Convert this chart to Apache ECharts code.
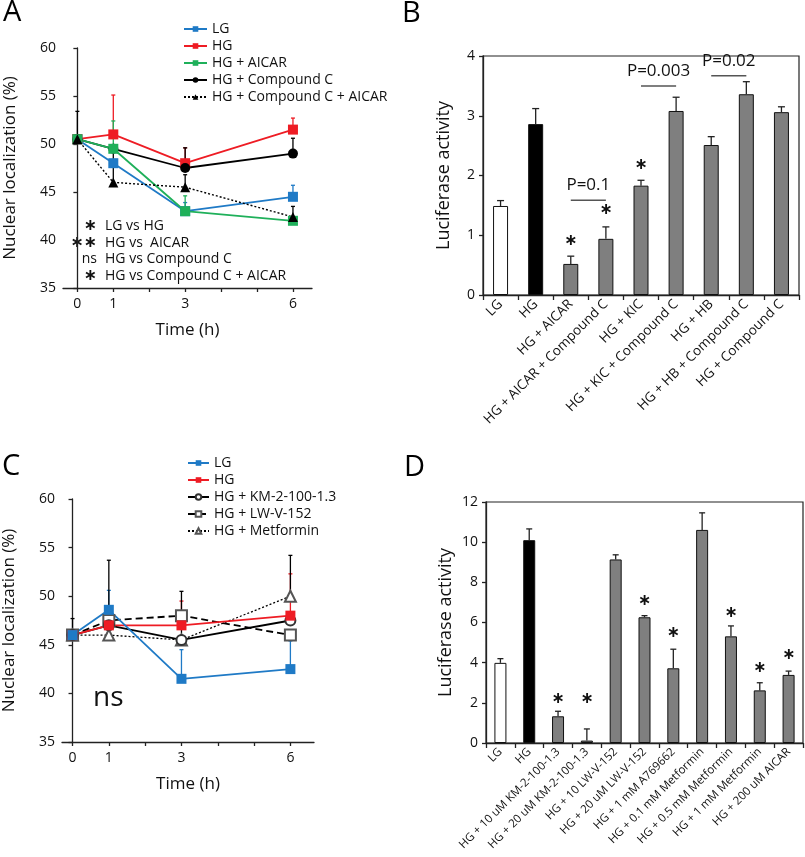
<!DOCTYPE html>
<html><head><meta charset="utf-8">
<script src="https://cdn.jsdelivr.net/npm/echarts@6/dist/echarts.min.js"></script>
<style>html,body{margin:0;padding:0;background:#fff}#c{width:805px;height:857px}</style>
</head><body><div id="c"></div>
<script>
// ---------- Panel A ----------
const timesA = [0, 1, 3, 6];
const aLG = [50.5, 48, 43, 44.5];
const aHG = [50.5, 51, 48, 51.5];
const aAICAR = [50.5, 49.5, 43, 42];
const aCC = [50.5, 49.5, 47.5, 49];
const aCCAICAR = [50.5, 46, 45.5, 42.4];
const aLGErr = [0, 0, 0.9, 1.2];
const aHGErr = [0, 4.1, 1.6, 1.2];
const aAICARErr = [0, 2.9, 1.6, 0];
const aCCErr = [0, 0, 2.1, 1.6];
const aCCAICARErr = [2.9, 3.3, 1.3, 1.1];
const aTickValues = [0, 1, 2, 3, 4, 5, 6];
const aLabelValues = [0, 1, 3, 6];
const aStars = ['\u2217', '\u2217\u2217', 'ns', '\u2217'];
const aNotes = ['LG vs HG', 'HG vs  AICAR', 'HG vs Compound C', 'HG vs Compound C + AICAR'];

// ---------- Panel B ----------
const bCats = ['LG', 'HG', 'HG + AICAR', 'HG + AICAR + Compound C', 'HG + KIC', 'HG + KIC + Compound C', 'HG + HB', 'HG + HB + Compound C', 'HG + Compound C'];
const bVals = [1.49, 2.86, 0.52, 0.94, 1.83, 3.08, 2.51, 3.36, 3.06];
const bErr = [0.09, 0.26, 0.13, 0.2, 0.09, 0.23, 0.14, 0.21, 0.09];
const bStarIdx = [2, 3, 4];
const bStarY = [0.9, 1.42, 2.17];
const bPFrom = [1.78, 3.97, 5.97];
const bPTo = [3.14, 5.3, 7.32];
const bPY = [1.585, 3.5, 3.67];
const bPText = ['P=0.1', 'P=0.003', 'P=0.02'];

// ---------- Panel C ----------
const timesC = [0, 1, 3, 6];
const cLG = [46, 48.6, 41.5, 42.5];
const cHG = [46, 47, 47, 48];
const cKM = [46, 47, 45.5, 47.5];
const cLW = [46, 47.5, 48, 46];
const cMet = [46, 46, 45.5, 50];
const cLGErr = [0, 2.0, 3.0, 2.9];
const cHGErr = [0, 0, 2.5, 4.3];
const cKMErr = [1.7, 6.7, 5.0, 0];
const cLWErr = [0, 0, 0, 0];
const cMetErr = [0, 0, 0, 4.2];

// ---------- Panel D ----------
const dCats = ['LG', 'HG', 'HG + 10 uM KM-2-100-1.3', 'HG + 20 uM KM-2-100-1.3', 'HG + 10 LW-V-152', 'HG + 20 uM LW-V-152', 'HG + 1 mM A769662', 'HG + 0.1 mM Metformin', 'HG + 0.5 mM Metformin', 'HG + 1 mM Metformin', 'HG + 200 uM AICAR'];
const dVals = [3.99, 10.1, 1.33, 0.12, 9.14, 6.26, 3.72, 10.61, 5.31, 2.62, 3.39];
const dErr = [0.21, 0.56, 0.25, 0.58, 0.23, 0.08, 0.95, 0.85, 0.52, 0.38, 0.19];
const dStarIdx = [2, 3, 5, 6, 8, 9, 10];
const dStarY = [2.2, 2.2, 7.1, 5.5, 6.5, 3.75, 4.4];

// ---------- styles ----------
const FONT = 'Open Sans';
const BLUE = '#1f7ac6', RED = '#ee1c24', GREEN = '#1fb05a', GRAYBAR = '#7f7f7f';
const barColors = (n) => Array.from({length: n}, (_, i) => i === 0 ? '#ffffff' : (i === 1 ? '#000000' : GRAYBAR));

function pts(xs, ys) { return xs.map((x, i) => [x, ys[i]]); }

function errSeries(axis, xs, vals, errs, color, capHalf, z) {
  const data = [];
  xs.forEach((x, i) => { if (errs[i] > 0) data.push([x, vals[i], vals[i] + errs[i]]); });
  return {
    type: 'custom', xAxisIndex: axis, yAxisIndex: axis, z: z, silent: true, data: data,
    encode: {x: 0, y: [1, 2]},
    renderItem: function (params, api) {
      const p0 = api.coord([api.value(0), api.value(1)]);
      const p1 = api.coord([api.value(0), api.value(2)]);
      return {type: 'group', children: [
        {type: 'line', shape: {x1: p0[0], y1: p0[1], x2: p1[0], y2: p1[1]}, style: {stroke: color, lineWidth: 1.3}},
        {type: 'line', shape: {x1: p1[0] - capHalf, y1: p1[1], x2: p1[0] + capHalf, y2: p1[1]}, style: {stroke: color, lineWidth: 1.3}}
      ]};
    }
  };
}

function starSeries(axis, idx, ys) {
  return {
    type: 'custom', xAxisIndex: axis, yAxisIndex: axis, z: 10, silent: true,
    data: idx.map((x, i) => [x, ys[i]]),
    renderItem: function (params, api) {
      const p = api.coord([api.value(0), api.value(1)]);
      return {type: 'text', x: p[0], y: p[1], style: {text: '\u2217', font: 'bold 16px "DejaVu Sans"', fill: '#111', align: 'center', verticalAlign: 'middle'}};
    }
  };
}

function lineSeries(name, axis, xs, ys, color, symbol, size, lineType, extra) {
  return Object.assign({
    name: name, type: 'line', xAxisIndex: axis, yAxisIndex: axis, data: pts(xs, ys),
    symbol: symbol, symbolSize: size, z: 5,
    lineStyle: {color: color, width: 1.8, type: lineType},
    itemStyle: {color: color},
    emphasis: {disabled: true}, animation: false
  }, extra || {});
}

const axisLineStyle = {color: '#222', width: 1.3};
const tickLabel = {color: '#111', fontFamily: FONT, fontSize: 14};

function timeX(grid, min, max) {
  return {
    gridIndex: grid, type: 'value', min: min, max: max,
    axisLine: {show: true, lineStyle: axisLineStyle},
    axisTick: {show: true, customValues: aTickValues, length: 4, lineStyle: axisLineStyle},
    axisLabel: Object.assign({customValues: aLabelValues, margin: 9}, tickLabel),
    splitLine: {show: false},
    name: 'Time (h)', nameLocation: 'middle', nameGap: 34,
    nameTextStyle: {fontFamily: FONT, fontSize: 17, color: '#111'}
  };
}
function locY(grid) {
  return {
    gridIndex: grid, type: 'value', min: 35, max: 60, interval: 5,
    axisLine: {show: true, lineStyle: axisLineStyle},
    axisTick: {show: true, length: 4, lineStyle: axisLineStyle},
    axisLabel: Object.assign({margin: 7}, tickLabel),
    splitLine: {show: false},
    name: 'Nuclear localization (%)', nameLocation: 'middle', nameGap: 44, nameRotate: 90,
    nameTextStyle: {fontFamily: FONT, fontSize: 17, color: '#111'}
  };
}
function catX(grid, cats, fs) {
  return {
    gridIndex: grid, type: 'category', data: cats,
    axisLine: {show: true, lineStyle: axisLineStyle},
    axisTick: {show: true, interval: 0, alignWithLabel: false, length: 5, lineStyle: axisLineStyle},
    axisLabel: {interval: 0, rotate: 45, margin: 7, color: '#111', fontFamily: FONT, fontSize: fs},
    splitLine: {show: false}
  };
}
function lucY(grid, max, interval, gap) {
  return {
    gridIndex: grid, type: 'value', min: 0, max: max, interval: interval,
    axisLine: {show: true, lineStyle: axisLineStyle},
    axisTick: {show: true, length: 4, lineStyle: axisLineStyle},
    axisLabel: Object.assign({margin: 8}, tickLabel),
    splitLine: {show: false},
    name: 'Luciferase activity', nameLocation: 'middle', nameGap: gap, nameRotate: 90,
    nameTextStyle: {fontFamily: FONT, fontSize: 18, color: '#111'}
  };
}

function barSeries(axis, vals, width) {
  const cols = barColors(vals.length);
  return {
    type: 'bar', xAxisIndex: axis, yAxisIndex: axis, barWidth: width, z: 3,
    data: vals.map((v, i) => ({value: v, itemStyle: {color: cols[i]}})),
    itemStyle: {borderColor: '#111', borderWidth: 1},
    emphasis: {disabled: true}, animation: false
  };
}

const pSeries = {
  type: 'custom', xAxisIndex: 1, yAxisIndex: 1, z: 10, silent: true,
  data: bPFrom.map((f, i) => [f, bPY[i], bPTo[i]]),
  encode: {x: [0, 2], y: 1},
  renderItem: function (params, api) {
    const a = api.coord([api.value(0), api.value(1)]);
    const b = api.coord([api.value(2), api.value(1)]);
    return {type: 'group', children: [
      {type: 'line', shape: {x1: a[0], y1: a[1], x2: b[0], y2: b[1]}, style: {stroke: '#555', lineWidth: 1.5}},
      {type: 'text', x: (a[0] + b[0]) / 2, y: a[1] - 15, style: {text: bPText[params.dataIndex], font: '17px "Open Sans"', fill: '#111', align: 'center', verticalAlign: 'middle'}}
    ]};
  }
};

const graphics = [];
[['A', 3, 13], ['B', 402, 14], ['C', 2, 466.5], ['D', 404, 468]].forEach(l => {
  graphics.push({type: 'text', x: l[1], y: l[2], style: {text: l[0], font: '29px "Open Sans"', fill: '#000', align: 'left', verticalAlign: 'middle'}});
});
aStars.forEach((s, i) => {
  const y = 226 + i * 16.7;
  graphics.push({type: 'text', x: 97, y: y, style: {text: s, font: (s === 'ns' ? '14px "Open Sans"' : 'bold 16px "DejaVu Sans"'), fill: '#111', align: 'right', verticalAlign: 'middle'}});
  graphics.push({type: 'text', x: 105, y: y, style: {text: aNotes[i], font: '14px "Open Sans"', fill: '#111', align: 'left', verticalAlign: 'middle'}});
});
graphics.push({type: 'text', x: 93, y: 698, style: {text: 'ns', font: '28px "Open Sans"', fill: '#111', align: 'left', verticalAlign: 'middle'}});

const legendText = {fontFamily: FONT, fontSize: 14, color: '#111', lineHeight: 14};

const option = {
  animation: false,
  backgroundColor: '#fff',
  textStyle: {fontFamily: FONT},
  grid: [
    {left: 63, top: 48, width: 249, height: 240},
    {left: 483, top: 56, width: 316, height: 239, show: true, borderColor: '#222', borderWidth: 1.2, backgroundColor: 'transparent'},
    {left: 62, top: 499, width: 252, height: 243},
    {left: 486, top: 502, width: 317, height: 241, show: true, borderColor: '#222', borderWidth: 1.2, backgroundColor: 'transparent'}
  ],
  xAxis: [timeX(0, -0.4, 6.53), catX(1, bCats, 13.5), timeX(2, -0.29, 6.65), catX(3, dCats, 11.5)],
  yAxis: [locY(0), lucY(1, 4, 1, 30), locY(2), lucY(3, 12, 2, 31)],
  legend: [
    {left: 183, top: 22, orient: 'vertical', itemWidth: 23, itemHeight: 7, itemGap: 3, padding: 0, selectedMode: false,
     textStyle: legendText, data: ['LG', 'HG', 'HG + AICAR', 'HG + Compound C', 'HG + Compound C + AICAR']},
    {left: 187, top: 456, orient: 'vertical', itemWidth: 21, itemHeight: 7, itemGap: 3, padding: 0, selectedMode: false,
     textStyle: legendText, data: ['LG ', 'HG ', 'HG + KM-2-100-1.3', 'HG + LW-V-152', 'HG + Metformin']}
  ],
  graphic: graphics,
  series: [
    // A error bars
    errSeries(0, timesA, aLG, aLGErr, BLUE, 2, 2),
    errSeries(0, timesA, aHG, aHGErr, RED, 2, 2),
    errSeries(0, timesA, aAICAR, aAICARErr, GREEN, 2, 2),
    errSeries(0, timesA, aCC, aCCErr, '#000', 2, 2),
    errSeries(0, timesA, aCCAICAR, aCCAICARErr, '#000', 2, 2),
    lineSeries('LG', 0, timesA, aLG, BLUE, 'rect', 10, 'solid'),
    lineSeries('HG', 0, timesA, aHG, RED, 'rect', 10, 'solid'),
    lineSeries('HG + Compound C', 0, timesA, aCC, '#000', 'circle', 10, 'solid'),
    lineSeries('HG + AICAR', 0, timesA, aAICAR, GREEN, 'rect', 10, 'solid'),
    lineSeries('HG + Compound C + AICAR', 0, timesA, aCCAICAR, '#000', 'triangle', 10, [2, 2], {lineStyle: {color: '#000', width: 1.4, type: [2, 2]}}),
    // B
    barSeries(1, bVals, 15),
    errSeries(1, bCats.map((c, i) => i), bVals, bErr, '#222', 3.5, 4),
    starSeries(1, bStarIdx, bStarY),
    pSeries,
    // C error bars
    errSeries(2, timesC, cLG, cLGErr, BLUE, 2, 2),
    errSeries(2, timesC, cHG, cHGErr, RED, 2, 2),
    errSeries(2, timesC, cKM, cKMErr, '#000', 2, 2),
    errSeries(2, timesC, cLW, cLWErr, '#000', 2, 2),
    errSeries(2, timesC, cMet, cMetErr, '#000', 2, 2),
    lineSeries('HG + LW-V-152', 2, timesC, cLW, '#000', 'emptyRect', 11, [7, 4], {itemStyle: {color: '#555', borderWidth: 1}, lineStyle: {color: '#000', width: 1.8, type: [7, 4]}}),
    lineSeries('HG + Metformin', 2, timesC, cMet, '#000', 'emptyTriangle', 11, [2, 2], {itemStyle: {color: '#555', borderWidth: 1}, lineStyle: {color: '#000', width: 1.3, type: [2, 2]}}),
    lineSeries('HG + KM-2-100-1.3', 2, timesC, cKM, '#000', 'emptyCircle', 10, 'solid', {itemStyle: {color: '#333', borderWidth: 1}, lineStyle: {color: '#000', width: 1.8}}),
    lineSeries('HG ', 2, timesC, cHG, RED, 'rect', 10, 'solid'),
    lineSeries('LG ', 2, timesC, cLG, BLUE, 'rect', 10, 'solid'),
    // D
    barSeries(3, dVals, 12),
    errSeries(3, dCats.map((c, i) => i), dVals, dErr, '#222', 3, 4),
    starSeries(3, dStarIdx, dStarY)
  ]
};

const chart = echarts.init(document.getElementById('c'), null, {renderer: 'canvas'});
chart.setOption(option);
</script>
</body></html>
